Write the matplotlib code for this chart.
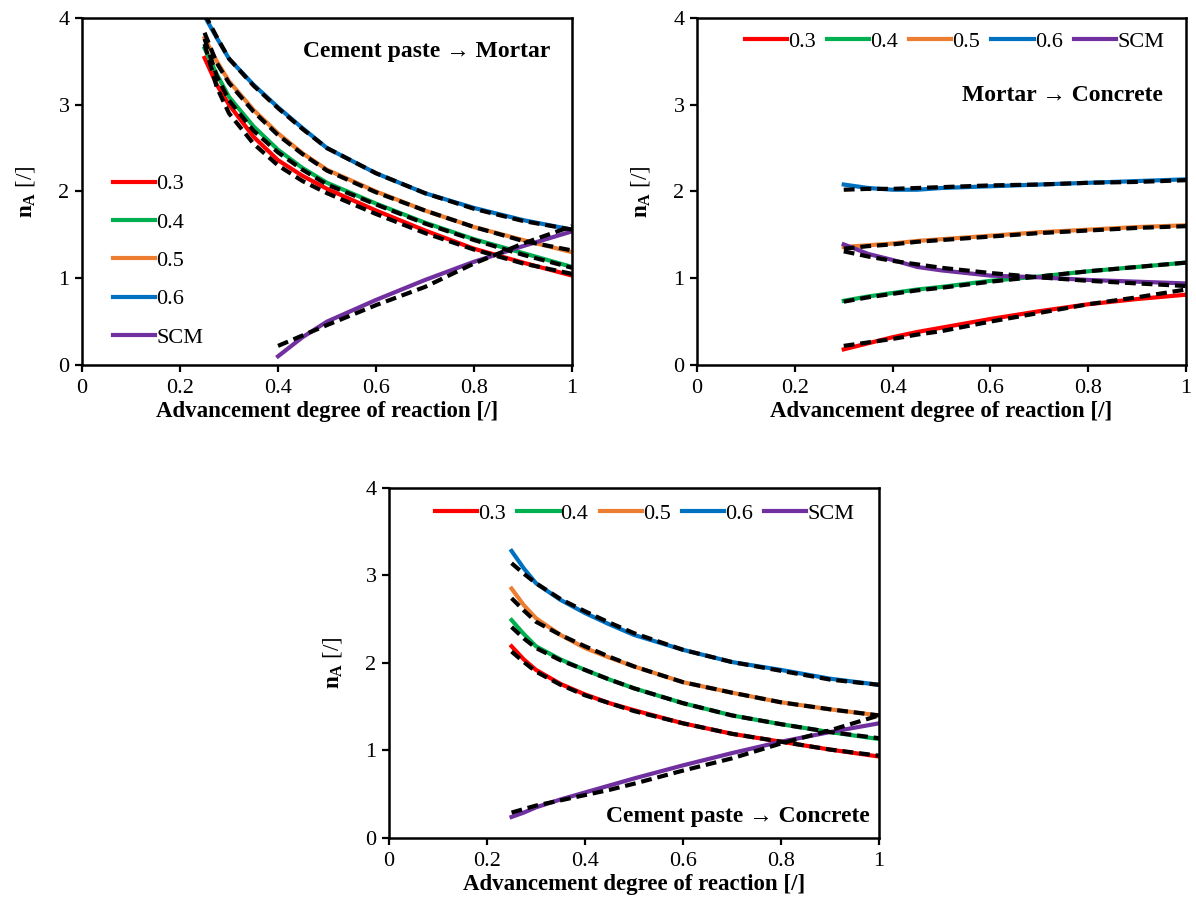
import matplotlib
matplotlib.use("Agg")
import matplotlib.pyplot as plt

RED = "#FF0000"
GREEN = "#00B050"
ORANGE = "#ED7D31"
BLUE = "#0070C0"
PURPLE = "#7030A0"

plt.rcParams['font.family'] = ['Liberation Serif', 'DejaVu Serif']
plt.rcParams['mathtext.fontset'] = 'custom'
plt.rcParams['mathtext.rm'] = 'Liberation Serif'
plt.rcParams['mathtext.bf'] = 'Liberation Serif:bold'

labels = ["0.3", "0.4", "0.5", "0.6", "SCM"]
colors = [RED, GREEN, ORANGE, BLUE, PURPLE]

# ---- Cement paste -> Mortar
tl_x = [0.25, 0.275, 0.3, 0.35, 0.4, 0.45, 0.5, 0.6, 0.7, 0.8, 0.9, 1.0]
tl_03 = [3.54, 3.23, 3.00, 2.63, 2.36, 2.18, 2.03, 1.78, 1.55, 1.34, 1.18, 1.03]
tl_04 = [3.65, 3.35, 3.09, 2.75, 2.48, 2.27, 2.10, 1.86, 1.64, 1.45, 1.29, 1.13]
tl_05 = [3.77, 3.50, 3.27, 2.94, 2.67, 2.44, 2.25, 2.00, 1.78, 1.59, 1.44, 1.30]
tl_06 = [4.02, 3.77, 3.53, 3.23, 2.97, 2.73, 2.50, 2.21, 1.98, 1.81, 1.67, 1.56]
tl_03_fit = [3.70, 3.20, 2.90, 2.55, 2.30, 2.12, 1.98, 1.74, 1.52, 1.33, 1.17, 1.05]
tl_04_fit = [3.76, 3.33, 3.05, 2.70, 2.45, 2.25, 2.08, 1.85, 1.63, 1.44, 1.27, 1.12]
tl_05_fit = [3.83, 3.48, 3.25, 2.92, 2.65, 2.43, 2.24, 1.99, 1.78, 1.59, 1.43, 1.32]
tl_06_fit = [4.05, 3.78, 3.53, 3.22, 2.96, 2.72, 2.50, 2.21, 1.98, 1.80, 1.66, 1.56]
tl_scm_x = [0.4, 0.45, 0.5, 0.6, 0.7, 0.8, 0.9, 1.0]
tl_scm = [0.10, 0.32, 0.50, 0.75, 0.98, 1.19, 1.37, 1.54]
tl_scm_fit = [0.22, 0.34, 0.46, 0.69, 0.90, 1.17, 1.40, 1.60]

# ---- Mortar -> Concrete
tr_x = [0.3, 0.35, 0.4, 0.45, 0.5, 0.6, 0.7, 0.8, 0.9, 1.0]
tr_03 = [0.18, 0.25, 0.32, 0.38, 0.43, 0.53, 0.62, 0.70, 0.76, 0.81]
tr_04 = [0.74, 0.79, 0.83, 0.87, 0.90, 0.97, 1.02, 1.08, 1.13, 1.18]
tr_05 = [1.36, 1.38, 1.40, 1.43, 1.45, 1.49, 1.53, 1.56, 1.59, 1.61]
tr_06 = [2.08, 2.04, 2.02, 2.02, 2.04, 2.06, 2.08, 2.10, 2.12, 2.14]
tr_scm = [1.39, 1.28, 1.21, 1.13, 1.09, 1.03, 1.01, 0.98, 0.96, 0.94]
tr_03_fit = [0.22, 0.26, 0.30, 0.35, 0.39, 0.50, 0.60, 0.70, 0.78, 0.87]
tr_04_fit = [0.73, 0.78, 0.82, 0.86, 0.89, 0.96, 1.02, 1.08, 1.13, 1.18]
tr_05_fit = [1.34, 1.37, 1.39, 1.42, 1.44, 1.48, 1.52, 1.55, 1.58, 1.60]
tr_06_fit = [2.02, 2.03, 2.03, 2.04, 2.05, 2.07, 2.08, 2.10, 2.11, 2.13]
tr_scm_fit = [1.31, 1.25, 1.20, 1.16, 1.12, 1.06, 1.01, 0.97, 0.94, 0.91]

# ---- Cement paste -> Concrete
bc_x = [0.25, 0.275, 0.3, 0.35, 0.4, 0.45, 0.5, 0.6, 0.7, 0.8, 0.9, 1.0]
bc_03 = [2.19, 2.04, 1.92, 1.76, 1.64, 1.54, 1.46, 1.31, 1.19, 1.10, 1.01, 0.93]
bc_04 = [2.49, 2.33, 2.19, 2.04, 1.92, 1.81, 1.71, 1.54, 1.40, 1.30, 1.21, 1.13]
bc_05 = [2.85, 2.66, 2.51, 2.32, 2.17, 2.06, 1.96, 1.78, 1.66, 1.55, 1.47, 1.40]
bc_06 = [3.28, 3.08, 2.91, 2.72, 2.57, 2.44, 2.32, 2.15, 2.01, 1.92, 1.82, 1.75]
bc_scm = [0.24, 0.29, 0.35, 0.44, 0.52, 0.60, 0.68, 0.83, 0.97, 1.10, 1.21, 1.31]
bc_03_fit = [2.13, 2.01, 1.90, 1.75, 1.63, 1.54, 1.45, 1.31, 1.19, 1.10, 1.01, 0.94]
bc_04_fit = [2.41, 2.28, 2.17, 2.03, 1.92, 1.81, 1.71, 1.54, 1.40, 1.30, 1.21, 1.14]
bc_05_fit = [2.74, 2.60, 2.47, 2.32, 2.19, 2.07, 1.96, 1.78, 1.66, 1.55, 1.47, 1.40]
bc_06_fit = [3.14, 3.02, 2.91, 2.73, 2.59, 2.46, 2.34, 2.15, 2.01, 1.91, 1.81, 1.75]
bc_scm_fit = [0.29, 0.33, 0.37, 0.43, 0.49, 0.55, 0.62, 0.77, 0.91, 1.08, 1.23, 1.40]


def panel(ax, sims, fits, title, title_xy, legend_kw):
    """One panel: coloured simulated curves, black dashed fits on top."""
    for (x, y), c, lab in zip(sims, colors, labels):
        ax.plot(x, y, color=c, lw=3, label=lab, solid_joinstyle='round')
    for x, y in fits:
        ax.plot(x, y, color='black', lw=3, dashes=(2.6, 1.4))
    ax.set_xlim(0, 1)
    ax.set_ylim(0, 4)
    ax.set_xticks([0, 0.2, 0.4, 0.6, 0.8, 1])
    ax.set_xticklabels(["0", "0.2", "0.4", "0.6", "0.8", "1"])
    ax.set_yticks([0, 1, 2, 3, 4])
    ax.tick_params(direction='out', length=5, width=1.6, labelsize=16)
    ax.tick_params(axis='x', pad=5)
    ax.tick_params(axis='y', pad=4)
    for s in ax.spines.values():
        s.set_linewidth(1.8)
    ax.set_xlabel("Advancement degree of reaction [/]", fontsize=16.5,
                  fontweight='bold', labelpad=2)
    ax.set_ylabel(r"$\mathbf{n}_\mathbf{A}$ [/]", fontsize=16.5, labelpad=15)
    ax.text(title_xy[0], title_xy[1], title, transform=ax.transAxes,
            ha='right', va='center', fontsize=17, fontweight='bold')
    ax.legend(frameon=False, fontsize=16, handlelength=1.9, handletextpad=0.05,
              borderpad=0, borderaxespad=0, **legend_kw)


fig = plt.figure(figsize=(11.96, 9.17), dpi=100)
ax1 = fig.add_axes([0.0686, 0.6020, 0.4097, 0.3784])
ax2 = fig.add_axes([0.5828, 0.6020, 0.4089, 0.3784])
ax3 = fig.add_axes([0.3253, 0.0862, 0.4097, 0.3817])

panel(ax1,
      [(tl_x, tl_03), (tl_x, tl_04), (tl_x, tl_05), (tl_x, tl_06), (tl_scm_x, tl_scm)],
      [(tl_x, tl_03_fit), (tl_x, tl_04_fit), (tl_x, tl_05_fit), (tl_x, tl_06_fit),
       (tl_scm_x, tl_scm_fit)],
      "Cement paste \u2192 Mortar", (0.955, 0.902),
      dict(loc='center left', bbox_to_anchor=(0.063, 0.30), labelspacing=0.8))

panel(ax2,
      [(tr_x, tr_03), (tr_x, tr_04), (tr_x, tr_05), (tr_x, tr_06), (tr_x, tr_scm)],
      [(tr_x, tr_03_fit), (tr_x, tr_04_fit), (tr_x, tr_05_fit), (tr_x, tr_06_fit),
       (tr_x, tr_scm_fit)],
      "Mortar \u2192 Concrete", (0.953, 0.778),
      dict(loc='center', bbox_to_anchor=(0.526, 0.931), ncol=5, columnspacing=0.5))

panel(ax3,
      [(bc_x, bc_03), (bc_x, bc_04), (bc_x, bc_05), (bc_x, bc_06), (bc_x, bc_scm)],
      [(bc_x, bc_03_fit), (bc_x, bc_04_fit), (bc_x, bc_05_fit), (bc_x, bc_06_fit),
       (bc_x, bc_scm_fit)],
      "Cement paste \u2192 Concrete", (0.982, 0.06),
      dict(loc='center', bbox_to_anchor=(0.522, 0.926), ncol=5, columnspacing=0.5))

fig.savefig("out.png", dpi=100)
